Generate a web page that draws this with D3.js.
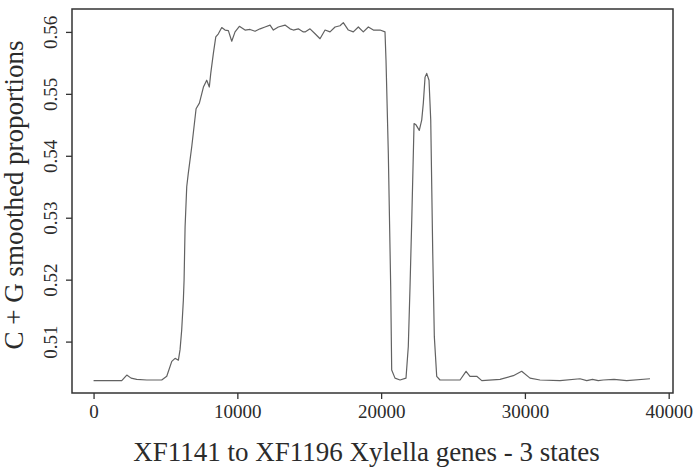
<!DOCTYPE html>
<head>
  <meta charset="utf-8">
  <script src="https://d3js.org/d3.v7.min.js"></script>
  <style>
    body { margin: 0; background: #fff; }
    svg { width: 696px; height: 468px; display: block; }
    text { font-family: "Liberation Serif", "DejaVu Serif", serif; fill: #2b2b2b; }
  </style>
</head>

<body>
  <svg></svg>
  <script>
    // position along the region (bp) and smoothed C+G proportion
    var position = [
      0, 1960, 2310, 2610, 3000, 3700, 4740, 5090, 5440, 5670,
      5900, 6015, 6130, 6245, 6295, 6365, 6480, 6590, 6830, 7130,
      7360, 7640, 7870, 8050, 8150, 8330, 8500, 8680, 8915, 9145,
      9375, 9610, 9840, 10140, 10535, 10885, 11230, 11580, 11925, 12275,
      12505, 12850, 13315, 13665, 13895, 14240, 14590, 14710, 15055, 15405,
      15750, 16100, 16445, 16795, 17140, 17370, 17720, 18065, 18415, 18760,
      19110, 19460, 19925, 20270, 20340, 20500, 20665, 20735, 20965, 21315,
      21730, 21890, 22010, 22130, 22290, 22425, 22655, 22825, 22935, 23055,
      23170, 23330, 23450, 23590, 23700, 23865, 24095, 25490, 25905, 26180,
      26650, 27000, 28270, 29195, 29775, 30355, 31050, 32440, 33830, 34300,
      34700, 35100, 35450, 36200, 37080, 38700
    ];
    var proportion = [
      0.5037, 0.5037, 0.5046, 0.5041, 0.5039, 0.5038, 0.5038, 0.5044, 0.5068, 0.5073,
      0.5070, 0.5087, 0.5119, 0.5167, 0.5199, 0.5285, 0.5350, 0.5372, 0.5415, 0.5476,
      0.5485, 0.5511, 0.5522, 0.5511, 0.5533, 0.5565, 0.5592, 0.5597, 0.5607, 0.5603,
      0.5602, 0.5585, 0.5600, 0.5609, 0.5603, 0.5604, 0.5601, 0.5605, 0.5608, 0.5611,
      0.5603, 0.5608, 0.5611, 0.5605, 0.5603, 0.5605, 0.5600, 0.5600, 0.5605, 0.5597,
      0.5589, 0.5603, 0.5600, 0.5608, 0.5610, 0.5615, 0.5603, 0.5600, 0.5608, 0.5600,
      0.5608, 0.5603, 0.5603, 0.5600, 0.5554, 0.5404, 0.5189, 0.5054, 0.5041, 0.5038,
      0.5041, 0.5092, 0.5189, 0.5296, 0.5452, 0.5450, 0.5441, 0.5458, 0.5485, 0.5527,
      0.5533, 0.5522, 0.5458, 0.5243, 0.5108, 0.5044, 0.5038, 0.5038, 0.5052, 0.5044,
      0.5044, 0.5037, 0.5039, 0.5045, 0.5052, 0.5041, 0.5038, 0.5037, 0.5040, 0.5037,
      0.5039, 0.5037, 0.5038, 0.5039, 0.5037, 0.5040
    ];
    var xTicks = [0, 10000, 20000, 30000, 40000];
    var yTicks = [0.51, 0.52, 0.53, 0.54, 0.55, 0.56];

    var box = {left: 72, top: 9, right: 673, bottom: 393};
    var svg = d3.select('svg');

    var x = d3.scaleLinear().domain([-1500, 40300]).range([box.left, box.right]);
    var y = d3.scaleLinear().domain([0.5017, 0.5637]).range([box.bottom, box.top]);

    var points = position.map(function(p, i) { return [p, proportion[i]]; });

    svg.append('path')
      .datum(points)
      .attr('fill', 'none')
      .attr('stroke', '#626262')
      .attr('stroke-width', 1.2)
      .attr('stroke-linejoin', 'round')
      .attr('d', d3.line()
        .x(function(d) { return x(d[0]); })
        .y(function(d) { return y(d[1]); }));

    // x axis
    var xAxis = svg.append('g')
      .attr('transform', 'translate(0,' + box.bottom + ')')
      .call(d3.axisBottom(x).tickValues(xTicks).tickSize(6).tickPadding(6)
        .tickFormat(d3.format('d')));
    xAxis.select('.domain').remove();
    xAxis.selectAll('line').attr('stroke', '#333').attr('stroke-width', 1.3);
    xAxis.selectAll('text')
      .attr('font-family', '"Liberation Serif", serif')
      .attr('font-size', 19).attr('fill', '#2b2b2b');

    // y axis, labels parallel to the axis
    var yAxis = svg.append('g')
      .attr('transform', 'translate(' + box.left + ',0)')
      .call(d3.axisLeft(y).tickValues(yTicks).tickSize(6)
        .tickFormat(d3.format('.2f')));
    yAxis.select('.domain').remove();
    yAxis.selectAll('line').attr('stroke', '#333').attr('stroke-width', 1.3);
    yAxis.selectAll('text')
      .attr('font-family', '"Liberation Serif", serif')
      .attr('font-size', 19).attr('fill', '#2b2b2b')
      .attr('x', null).attr('dy', null)
      .attr('text-anchor', 'middle')
      .attr('transform', 'translate(-15,0) rotate(-90)');

    // frame
    svg.append('rect')
      .attr('x', box.left).attr('y', box.top)
      .attr('width', box.right - box.left).attr('height', box.bottom - box.top)
      .attr('fill', 'none').attr('stroke', '#333').attr('stroke-width', 1.5);

    svg.append('text')
      .attr('x', (box.left + box.right) / 2 - 6).attr('y', 461)
      .attr('text-anchor', 'middle').attr('font-size', 27)
      .text('XF1141 to XF1196 Xylella genes - 3 states');

    svg.append('text')
      .attr('transform', 'translate(23,195) rotate(-90)')
      .attr('text-anchor', 'middle').attr('font-size', 27)
      .text('C + G smoothed proportions');
  </script>
</body>
